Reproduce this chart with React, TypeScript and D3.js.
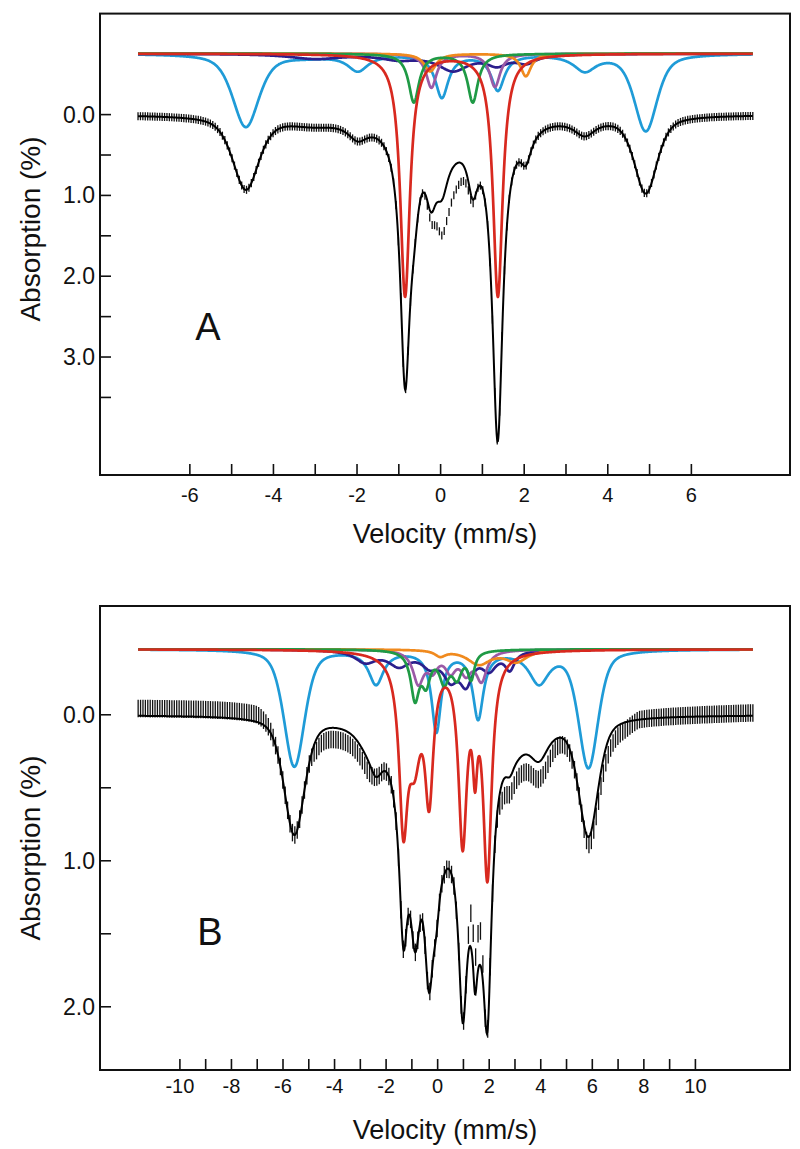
import React from 'react';
import * as d3 from 'd3';

const W = 800;
const H = 1149;

// ---------- DATA ----------
// Each fitted line: [velocity (mm/s), depth (% absorption), FWHM (mm/s), Lorentzian fraction (1 = pure Lorentzian)]
type Line = [number, number, number, number?];

// Panel A fit components
const blueA: Line[] = [[-4.66, 0.9, 0.75, 0.55], [-3.2, 0.03, 1.4], [-1.98, 0.2, 0.6], [0.03, 0.53, 0.38], [1.37, 0.44, 0.38], [3.45, 0.2, 0.65], [4.91, 0.95, 0.65, 0.55]];
const redA: Line[] = [[-0.85, 3.0, 0.28], [1.37, 3.0, 0.28]];
const greenA: Line[] = [[-0.64, 0.6, 0.3], [0.77, 0.6, 0.3]];
const purpleA: Line[] = [[-0.22, 0.42, 0.3], [1.3, 0.41, 0.3]];
const orangeA: Line[] = [[-0.25, 0.22, 0.35], [2.04, 0.28, 0.3]];
const navyA: Line[] = [[-3.0, 0.06, 1.5], [-1.0, 0.06, 1.0], [0.3, 0.2, 0.9], [1.35, 0.12, 0.6], [2.05, 0.1, 0.6]];
// where the measured points depart from the fit: velocity knots and extra absorption
const residVA = [-7.24, -0.42, -0.25, -0.1, 0.05, 0.2, 0.4, 0.6, 0.85, 7.47];
const residRA = [0, 0, 0.1, 0.28, 0.46, 0.44, 0.3, 0.15, 0, 0];

// Panel B fit components
const blueB: Line[] = [[-5.56, 0.8, 0.95, 0.45], [-2.39, 0.23, 0.7], [-0.05, 0.55, 0.45], [1.57, 0.46, 0.5], [3.93, 0.22, 0.95], [5.85, 0.8, 0.9, 0.45]];
const redB: Line[] = [[-1.33, 1.07, 0.4], [-0.9, 0.6, 0.6], [-0.33, 0.9, 0.4], [0.97, 1.25, 0.4], [1.45, 0.55, 0.22], [1.93, 1.5, 0.4]];
const greenB: Line[] = [[-0.88, 0.32, 0.4], [-0.45, 0.2, 0.4], [0.25, 0.2, 0.45], [0.75, 0.17, 0.45], [1.3, 0.18, 0.3]];
const purpleB: Line[] = [[-0.75, 0.22, 0.5], [-0.2, 0.12, 0.5], [0.5, 0.13, 0.5], [1.1, 0.14, 0.5], [1.7, 0.2, 0.5]];
const orangeB: Line[] = [[0.1, 0.04, 0.5], [1.6, 0.1, 1.1], [3.05, 0.08, 1.0]];
const navyB: Line[] = [[-2.8, 0.08, 1.0], [-1.5, 0.1, 1.0], [-0.3, 0.09, 0.8], [0.5, 0.17, 0.7], [1.1, 0.2, 0.6], [2.0, 0.12, 0.7], [2.8, 0.12, 0.45]];
const residVB = [-11.62, -7.0, -6.3, -5.0, -4.7, -2.7, -2.4, 1.1, 1.3, 1.65, 1.85, 2.2, 2.5, 4.2, 4.6, 5.5, 6.2, 6.6, 7.3, 7.8, 12.23];
const residRB = [-0.05, -0.05, 0, 0, 0.08, 0.08, 0, 0, -0.25, -0.25, 0, 0, 0.12, 0.12, 0.06, 0, 0.1, 0.1, 0.05, 0, -0.02];

// Axes
const xTicksA = [-6, -5, -4, -3, -2, -1, 0, 1, 2, 3, 4, 5, 6];
const xLabelsA = [-6, -4, -2, 0, 2, 4, 6];
const yTicksA = [0, 0.5, 1, 1.5, 2, 2.5, 3, 3.5];
const yLabelsA = [0, 1, 2, 3];
const xTicksB = [-10, -9, -8, -7, -6, -5, -4, -3, -2, -1, 0, 1, 2, 3, 4, 5, 6, 7, 8, 9, 10];
const xLabelsB = [-10, -8, -6, -4, -2, 0, 2, 4, 6, 8, 10];
const yTicksB = [0, 0.5, 1, 1.5, 2];
const yLabelsB = [0, 1, 2];

const velRangeA: [number, number] = [-7.24, 7.47];
const velRangeB: [number, number] = [-11.62, 12.23];
const xDomA: [number, number] = [-8.15, 8.36];
const yDomA: [number, number] = [-1.25, 4.46];
const xDomB: [number, number] = [-13.1, 13.67];
const yDomB: [number, number] = [-0.745, 2.433];
const CHANNELS = 256;

// ---------- STYLE ----------
const COLORS = {
  blue: '#1f9bd7',
  navy: '#2b1f8c',
  purple: '#9a5aa6',
  orange: '#f08a1e',
  green: '#1f9a45',
  red: '#d8291f',
};
const FONT = "'Liberation Sans', Arial, Helvetica, sans-serif";
const LN2x4 = 4 * Math.LN2;

const shape = (lines: Line[], v: number) =>
  lines.reduce((s, [c, d, g, eta = 1]) => {
    const u = (v - c) / g;
    const lz = 1 / (1 + 4 * u * u);
    const gs = Math.exp(-LN2x4 * u * u);
    return s + d * (eta * lz + (1 - eta) * gs);
  }, 0);

type PanelCfg = {
  comps: { lines: Line[]; color: string }[];
  residV: number[];
  residR: number[];
  velRange: [number, number];
  xDom: [number, number];
  yDom: [number, number];
  frame: { l: number; r: number; t: number; b: number };
  compOffset: number;
  err: number;
  xTicks: number[];
  xLabels: number[];
  yTicks: number[];
  yLabels: number[];
  xLabelY: number;
  titleY: number;
  yTitleY: number;
  letter: string;
  letterX: number;
  letterY: number;
};

function Panel({ cfg }: { cfg: PanelCfg }) {
  const { frame } = cfg;
  const x = d3.scaleLinear().domain(cfg.xDom).range([frame.l, frame.r]);
  const y = d3.scaleLinear().domain(cfg.yDom).range([frame.t, frame.b]);
  const resid = d3.scaleLinear().domain(cfg.residV).range(cfg.residR).clamp(true);
  const allLines = cfg.comps.flatMap((c) => c.lines);
  const fine = d3.range(1501).map((i) => cfg.velRange[0] + (i * (cfg.velRange[1] - cfg.velRange[0])) / 1500);
  const chans = d3.range(CHANNELS).map((i) => cfg.velRange[0] + (i * (cfg.velRange[1] - cfg.velRange[0])) / (CHANNELS - 1));
  const line = d3
    .line<[number, number]>()
    .x((d) => x(d[0]))
    .y((d) => y(d[1]));
  const fitPath = line(fine.map((v) => [v, shape(allLines, v)]));
  const pts = chans.map((v) => ({ v, a: shape(allLines, v) + resid(v) }));
  return (
    <g>
      {cfg.comps.map((c, i) => (
        <path
          key={i}
          d={line(fine.map((v) => [v, cfg.compOffset + shape(c.lines, v)])) || ''}
          fill="none"
          stroke={c.color}
          strokeWidth={2.7}
          strokeLinejoin="round"
        />
      ))}
      <g stroke="#111" strokeWidth={1.3}>
        {pts.map((p, i) => (
          <line key={i} x1={x(p.v)} x2={x(p.v)} y1={y(p.a - cfg.err)} y2={y(p.a + cfg.err)} />
        ))}
      </g>
      <path d={fitPath || ''} fill="none" stroke="#000" strokeWidth={2} />
      <rect
        x={frame.l}
        y={frame.t}
        width={frame.r - frame.l}
        height={frame.b - frame.t}
        fill="none"
        stroke="#111"
        strokeWidth={2}
      />
      <g stroke="#111" strokeWidth={1.6}>
        {cfg.xTicks.map((t) => (
          <line key={'x' + t} x1={x(t)} x2={x(t)} y1={frame.b} y2={frame.b - 11} />
        ))}
        {cfg.yTicks.map((t) => (
          <line key={'y' + t} x1={frame.l} x2={frame.l + 11} y1={y(t)} y2={y(t)} />
        ))}
      </g>
      <g fontFamily={FONT} fill="#111">
        {cfg.xLabels.map((t) => (
          <text key={'xl' + t} x={x(t)} y={cfg.xLabelY} textAnchor="middle" fontSize={20}>
            {t}
          </text>
        ))}
        {cfg.yLabels.map((t) => (
          <text key={'yl' + t} x={frame.l - 5} y={y(t)} textAnchor="end" dominantBaseline="central" fontSize={23}>
            {d3.format('.1f')(t)}
          </text>
        ))}
      </g>
      <text x={445} y={cfg.titleY} textAnchor="middle" fontFamily={FONT} fontSize={27} fill="#111">
        Velocity (mm/s)
      </text>
      <text
        transform={`translate(30,${cfg.yTitleY}) rotate(-90)`}
        textAnchor="middle"
        dominantBaseline="central"
        fontFamily={FONT}
        fontSize={28}
        fill="#111"
      >
        Absorption (%)
      </text>
      <text x={cfg.letterX} y={cfg.letterY} textAnchor="middle" fontFamily={FONT} fontSize={38} fill="#111">
        {cfg.letter}
      </text>
    </g>
  );
}

const compsOf = (blue: Line[], navy: Line[], purple: Line[], orange: Line[], green: Line[], red: Line[]) => [
  { lines: blue, color: COLORS.blue },
  { lines: navy, color: COLORS.navy },
  { lines: purple, color: COLORS.purple },
  { lines: orange, color: COLORS.orange },
  { lines: green, color: COLORS.green },
  { lines: red, color: COLORS.red },
];

const panelA: PanelCfg = {
  comps: compsOf(blueA, navyA, purpleA, orangeA, greenA, redA),
  residV: residVA,
  residR: residRA,
  velRange: velRangeA,
  xDom: xDomA,
  yDom: yDomA,
  frame: { l: 100, r: 790, t: 13.6, b: 475 },
  compOffset: -0.755,
  err: 0.05,
  xTicks: xTicksA,
  xLabels: xLabelsA,
  yTicks: yTicksA,
  yLabels: yLabelsA,
  xLabelY: 502,
  titleY: 543,
  yTitleY: 229,
  letter: 'A',
  letterX: 208,
  letterY: 340,
};

const panelB: PanelCfg = {
  comps: compsOf(blueB, navyB, purpleB, orangeB, greenB, redB),
  residV: residVB,
  residR: residRB,
  velRange: velRangeB,
  xDom: xDomB,
  yDom: yDomB,
  frame: { l: 100, r: 790, t: 606, b: 1070 },
  compOffset: -0.449,
  err: 0.06,
  xTicks: xTicksB,
  xLabels: xLabelsB,
  yTicks: yTicksB,
  yLabels: yLabelsB,
  xLabelY: 1093,
  titleY: 1139,
  yTitleY: 848,
  letter: 'B',
  letterX: 210,
  letterY: 945,
};

export default function App() {
  return (
    <div style={{ position: 'absolute', left: 0, top: 0 }}>
      <svg width={W} height={H} viewBox={`0 0 ${W} ${H}`} style={{ display: 'block', background: '#fff' }}>
        <Panel cfg={panelA} />
        <Panel cfg={panelB} />
      </svg>
    </div>
  );
}
